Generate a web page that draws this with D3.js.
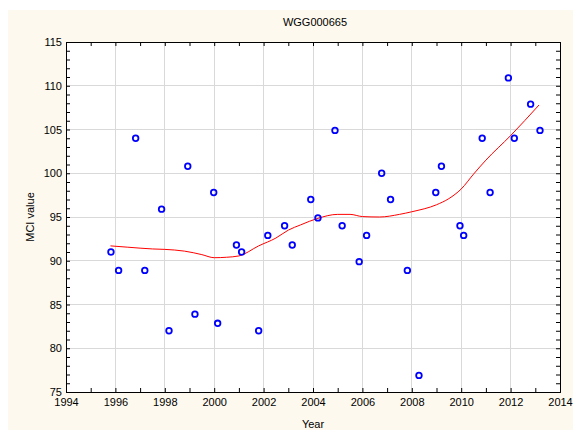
<!DOCTYPE html>
<html><head><meta charset="utf-8">
<script src="https://cdn.jsdelivr.net/npm/d3@7"></script>
<style>body{margin:0;background:#fff}svg{display:block}text{font-family:"Liberation Sans",Arial,sans-serif;fill:#000}</style>
</head><body>
<script>
const title = "WGG000665";
const xLabel = "Year";
const yLabel = "MCI value";
const years = [1995.82,1996.13,1996.82,1997.19,1997.87,1998.17,1998.93,1999.22,1999.98,2000.14,2000.9,2001.11,2001.8,2002.17,2002.85,2003.16,2003.91,2004.2,2004.89,2005.18,2005.87,2006.17,2006.78,2007.14,2007.82,2008.29,2008.97,2009.2,2009.95,2010.1,2010.85,2011.17,2011.91,2012.15,2012.81,2013.19];
const mci = [91.0,88.9,104.0,88.9,95.9,82.0,100.8,83.9,97.8,82.85,91.8,91.0,82.0,92.9,94.0,91.8,97.0,94.9,104.9,94.0,89.9,92.9,100.0,97.0,88.9,76.9,97.8,100.8,94.0,92.9,104.0,97.8,110.9,104.0,107.9,104.9];
const fitYears = [1995.8,1996.5,1997.5,1998.0,1998.8,1999.5,2000.0,2000.5,2001.0,2001.8,2002.5,2003.0,2003.5,2004.2,2005.0,2005.5,2006.0,2006.7,2007.5,2008.0,2009.0,2009.5,2010.0,2010.5,2011.0,2012.0,2013.15];
const fitValues = [91.7,91.55,91.35,91.3,91.1,90.7,90.35,90.4,90.55,91.7,92.6,93.5,94.1,94.85,95.3,95.3,95.05,95.0,95.3,95.6,96.4,97.1,98.2,99.9,101.5,104.3,107.8];
const xTicks = [1994,1996,1998,2000,2002,2004,2006,2008,2010,2012,2014];
const yTicks = [75,80,85,90,95,100,105,110,115];

const W=573,H=430;
const svg=d3.select("body").append("svg").attr("width",W).attr("height",H);
svg.append("rect").attr("x",8).attr("y",10).attr("width",W-8).attr("height",H-10).attr("fill","#fdf9ee");
const L=66,R=560,T=42,B=392;
const x=d3.scaleLinear().domain([1994,2014]).range([L,R]);
const y=d3.scaleLinear().domain([75,115]).range([B,T]);
svg.append("rect").attr("x",L).attr("y",T).attr("width",R-L).attr("height",B-T).attr("fill","#fff");
// grid
const g=svg.append("g");
g.selectAll("line.gx").data(xTicks.slice(1,-1)).join("line").attr("x1",d=>x(d)).attr("x2",d=>x(d)).attr("y1",T).attr("y2",B).attr("stroke","#d9d9d9").attr("stroke-width",1).attr("shape-rendering","crispEdges");
g.selectAll("line.gy").data(yTicks.slice(1,-1)).join("line").attr("y1",d=>y(d)).attr("y2",d=>y(d)).attr("x1",L).attr("x2",R).attr("stroke","#d9d9d9").attr("stroke-width",1).attr("shape-rendering","crispEdges");
// minor ticks
const xMinor=d3.range(1994,2015,1), yMinor=d3.range(75,116,1);
function axes(){
  const fmt=d3.format("d");
  const ax=svg.append("g").attr("transform",`translate(0,${B})`).call(d3.axisBottom(x).tickValues(xMinor).tickSize(-4).tickFormat(""));
  const ax2=svg.append("g").attr("transform",`translate(0,${T})`).call(d3.axisTop(x).tickValues(xMinor).tickSize(-4).tickFormat(""));
  const ay=svg.append("g").attr("transform",`translate(${L},0)`).call(d3.axisLeft(y).tickValues(yMinor).tickSize(-4).tickFormat(""));
  const ay2=svg.append("g").attr("transform",`translate(${R},0)`).call(d3.axisRight(y).tickValues(yMinor).tickSize(-4).tickFormat(""));
  [ax,ax2,ay,ay2].forEach(a=>{a.select(".domain").attr("stroke","#000");a.selectAll("line").attr("stroke","#000");});
  // labels
  const xl=svg.append("g").attr("transform",`translate(0,${B})`).call(d3.axisBottom(x).tickValues(xTicks).tickSize(0).tickPadding(6).tickFormat(fmt));
  xl.select(".domain").remove();
  xl.selectAll("text").attr("font-size",11).attr("fill","#000").style("font-family","Liberation Sans, Arial, sans-serif");
  const yl=svg.append("g").attr("transform",`translate(${L},0)`).call(d3.axisLeft(y).tickValues(yTicks).tickSize(0).tickPadding(4).tickFormat(fmt));
  yl.select(".domain").remove();
  yl.selectAll("text").attr("font-size",11).attr("fill","#000").style("font-family","Liberation Sans, Arial, sans-serif");
}
axes();
// fit line
const line=d3.line().x((d,i)=>x(fitYears[i])).y(d=>y(d)).curve(d3.curveMonotoneX);
svg.append("path").attr("d",line(fitValues)).attr("fill","none").attr("stroke","#ff0000").attr("stroke-width",1);
// points
svg.append("g").selectAll("circle").data(mci).join("circle").attr("cx",(d,i)=>x(years[i])).attr("cy",d=>y(d)).attr("r",2.8).attr("fill","none").attr("stroke","#0000ff").attr("stroke-width",1.8);
// titles
svg.append("text").attr("x",315).attr("y",26).attr("text-anchor","middle").attr("font-size",11).text(title);
svg.append("text").attr("x",313).attr("y",428).attr("text-anchor","middle").attr("font-size",11).text(xLabel);
svg.append("text").attr("transform","translate(34,217) rotate(-90)").attr("text-anchor","middle").attr("font-size",11).text(yLabel);
</script>
</body></html>
